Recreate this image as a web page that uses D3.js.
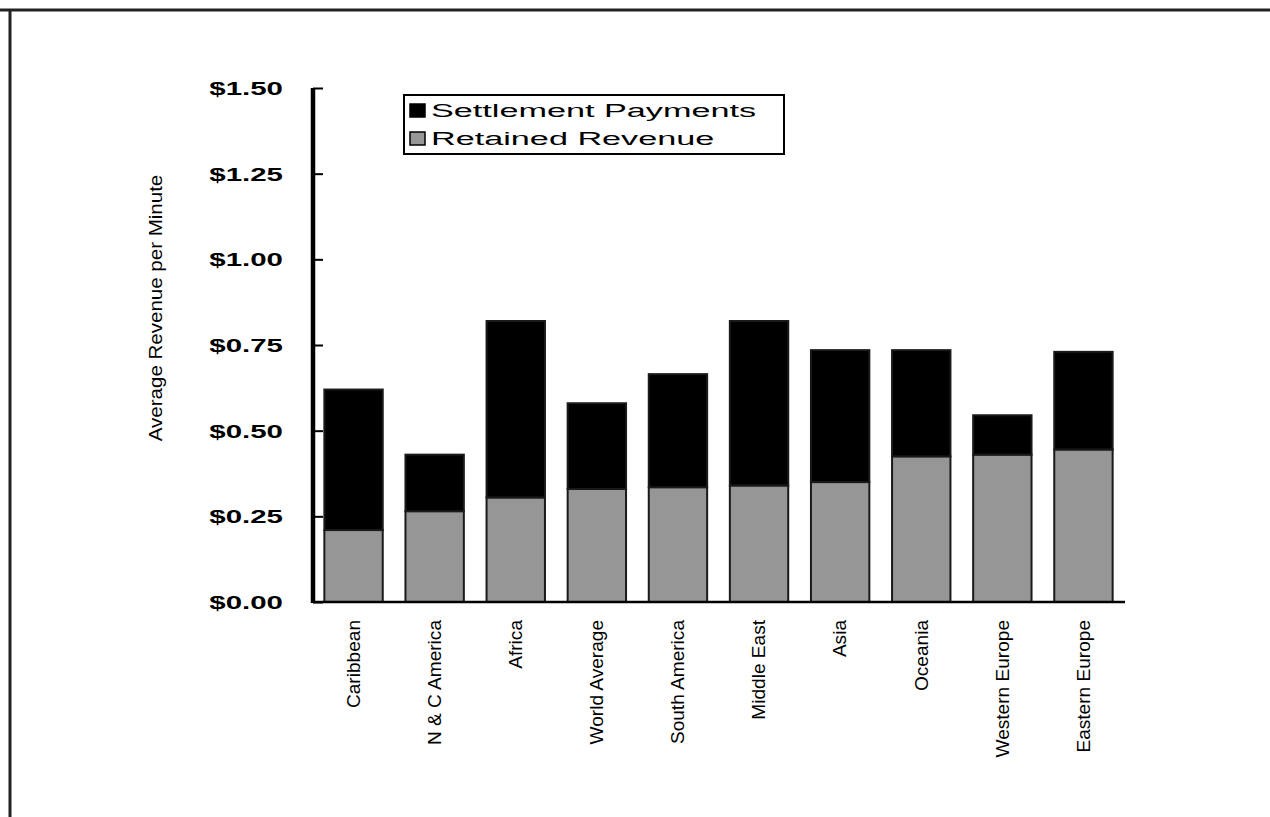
<!DOCTYPE html>
<html>
<head>
<meta charset="utf-8">
<script src="https://cdn.jsdelivr.net/npm/d3@7"></script>
<style>
  html, body { margin: 0; padding: 0; background: #fff; }
  svg { display: block; }
</style>
</head>
<body>
<svg id="chart" width="1270" height="817"></svg>
<script>
// ---- data ----
const categories = ["Caribbean", "N & C America", "Africa", "World Average", "South America",
                    "Middle East", "Asia", "Oceania", "Western Europe", "Eastern Europe"];
const retainedRevenue    = [0.21, 0.265, 0.305, 0.33, 0.335, 0.34, 0.35, 0.425, 0.43, 0.445];
const settlementPayments = [0.41, 0.165, 0.515, 0.25, 0.33, 0.48, 0.385, 0.31, 0.115, 0.285];
const yTicks = [0, 0.25, 0.5, 0.75, 1.0, 1.25, 1.5];
const seriesNames = ["Settlement Payments", "Retained Revenue"];
const seriesColors = ["#000000", "#969696"];
const yTitle = "Average Revenue per Minute";

// ---- layout ----
const W = 1270, H = 817;
const plot = { left: 313, right: 1124, top: 88, bottom: 602 };
const svg = d3.select("#chart");

// frame (top and left edge lines)
svg.append("line").attr("x1", 0).attr("x2", W).attr("y1", 10).attr("y2", 10)
   .attr("stroke", "#222").attr("stroke-width", 3);
svg.append("line").attr("x1", 10).attr("x2", 10).attr("y1", 10).attr("y2", H)
   .attr("stroke", "#222").attr("stroke-width", 3);

const x = d3.scaleBand().domain(categories).range([plot.left, plot.right])
            .paddingInner(0.28).paddingOuter(0.14);
const y = d3.scaleLinear().domain([0, 1.5]).range([plot.bottom, plot.top]);

const rows = categories.map((c, i) => ({ cat: c, retained: retainedRevenue[i], settlement: settlementPayments[i] }));
const stack = d3.stack().keys(["retained", "settlement"])(rows);

// helper: stretch text horizontally to mimic the wide bitmap font
function stretch(sel, factor) {
  sel.each(function () {
    const len = this.getComputedTextLength();
    d3.select(this).attr("textLength", len * factor).attr("lengthAdjust", "spacingAndGlyphs");
  });
}

// bars
const colorByKey = { retained: seriesColors[1], settlement: seriesColors[0] };
svg.append("g").selectAll("g").data(stack).join("g")
  .attr("fill", d => colorByKey[d.key])
  .selectAll("rect").data(d => d).join("rect")
  .attr("x", d => x(d.data.cat))
  .attr("width", x.bandwidth())
  .attr("y", d => y(d[1]))
  .attr("height", d => y(d[0]) - y(d[1]))
  .attr("stroke", "#1a1a1a").attr("stroke-width", 2);

// y axis
const yAxis = d3.axisRight(y).tickValues(yTicks).tickSize(10).tickFormat("");
const gy = svg.append("g").attr("transform", `translate(${plot.left},0)`).call(yAxis);
gy.select(".domain").remove();
gy.selectAll(".tick line").attr("stroke", "#000").attr("stroke-width", 2);
svg.append("line").attr("x1", plot.left).attr("x2", plot.left)
   .attr("y1", plot.top).attr("y2", plot.bottom + 1)
   .attr("stroke", "#000").attr("stroke-width", 4.5);

// y tick labels
const fmt = d3.format("$.2f");
const yl = svg.append("g").selectAll("text").data(yTicks).join("text")
  .attr("x", 283).attr("y", d => y(d)).attr("dy", "0.36em")
  .attr("text-anchor", "end")
  .style("font-family", "'Liberation Sans', Arial, sans-serif")
  .style("font-weight", "bold").style("font-size", "19px").attr("fill", "#000")
  .text(d => fmt(d));
stretch(yl, 1.55);

// x axis
svg.append("line").attr("x1", plot.left).attr("x2", 1125)
   .attr("y1", plot.bottom).attr("y2", plot.bottom)
   .attr("stroke", "#000").attr("stroke-width", 2.5);

// x labels
const xl = svg.append("g").selectAll("text").data(categories).join("text")
  .attr("transform", d => `translate(${x(d) + x.bandwidth() / 2},${620}) rotate(-90)`)
  .attr("dy", "0.35em")
  .attr("text-anchor", "end")
  .style("font-family", "'Liberation Sans Narrow', 'Arial Narrow', 'Liberation Sans', sans-serif")
  .style("font-size", "18px").attr("fill", "#000")
  .text(d => d);
stretch(xl, 1.06);

// y title
const yt = svg.append("text")
  .attr("transform", `translate(155,308) rotate(-90)`)
  .attr("dy", "0.35em").attr("text-anchor", "middle")
  .style("font-family", "'Liberation Sans Narrow', 'Arial Narrow', 'Liberation Sans', sans-serif")
  .style("font-size", "19px").attr("fill", "#000")
  .text(yTitle);
stretch(yt, 1.08);

// legend
const lg = svg.append("g");
lg.append("rect").attr("x", 404).attr("y", 95).attr("width", 380).attr("height", 59)
  .attr("fill", "#fff").attr("stroke", "#000").attr("stroke-width", 2);
const items = lg.selectAll("g.item").data(seriesNames).join("g").attr("class", "item")
  .attr("transform", (d, i) => `translate(410,${111 + i * 28})`);
items.append("rect").attr("x", 0).attr("y", -7).attr("width", 15).attr("height", 13)
  .attr("fill", (d, i) => seriesColors[i]).attr("stroke", "#000").attr("stroke-width", 1.5);
const lt = items.append("text").attr("x", 21).attr("y", 0).attr("dy", "0.36em")
  .style("font-family", "'Liberation Sans', Arial, sans-serif")
  .style("font-size", "18px").attr("fill", "#000")
  .text(d => d);
stretch(lt, 1.9);
</script>
</body>
</html>
